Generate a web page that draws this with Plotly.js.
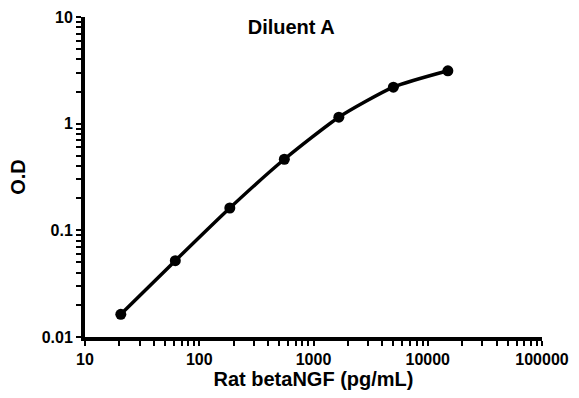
<!DOCTYPE html>
<html>
<head>
<meta charset="utf-8">
<script src="https://cdn.plot.ly/plotly-3.0.1.min.js"></script>
<style>html,body{margin:0;padding:0;background:#fff;}#chart{width:579px;height:398px;}</style>
</head>
<body>
<div id="chart"></div>
<script>
const concentration = [20.58, 61.73, 185.2, 555.6, 1666.7, 5000, 15000];
const od = [0.0163, 0.052, 0.162, 0.464, 1.15, 2.2, 3.13];
const xTickVals = [10, 100, 1000, 10000, 100000];
const xTickText = ["10", "100", "1000", "10000", "100000"];
const yTickVals = [0.01, 0.1, 1, 10];
const yTickText = ["0.01", "0.1", "1", "10"];

// major + minor (2..9 per decade) tick positions; minor ones get empty labels
function withMinor(majors, labels) {
  const vals = [], text = [];
  for (let i = 0; i < majors.length; i++) {
    vals.push(majors[i]); text.push(labels[i]);
    if (i < majors.length - 1) {
      for (let k = 2; k <= 9; k++) { vals.push(majors[i] * k); text.push(""); }
    }
  }
  return {vals, text};
}
const xT = withMinor(xTickVals, xTickText);
const yT = withMinor(yTickVals, yTickText);

const font = "Liberation Sans, Arial, sans-serif";

Plotly.newPlot("chart", [{
  x: concentration,
  y: od,
  type: "scatter",
  mode: "lines+markers",
  line: {color: "#000", width: 3.5, shape: "spline", smoothing: 0.6},
  marker: {color: "#000", size: 11},
  showlegend: false
}], {
  width: 579, height: 398,
  margin: {l: 85, r: 37, t: 17, b: 61},
  paper_bgcolor: "#fff", plot_bgcolor: "#fff",
  title: {text: "<b>Diluent A</b>", font: {family: font, size: 20, color: "#000"},
          x: 0.503, xref: "container", y: 0.932, yref: "container", yanchor: "middle"},
  xaxis: {
    type: "log", range: [1, 5],
    tickmode: "array", tickvals: xT.vals, ticktext: xT.text,
    showgrid: false, zeroline: false,
    showline: true, linecolor: "#000", linewidth: 4,
    ticks: "outside", ticklen: 5, tickwidth: 2, tickcolor: "#000",
    tickfont: {family: font, size: 16, color: "#000", weight: "bold"},
    title: {text: "<b>Rat betaNGF (pg/mL)</b>", font: {family: font, size: 20, color: "#000"}, standoff: 2}
  },
  yaxis: {
    type: "log", range: [-2, 1],
    tickmode: "array", tickvals: yT.vals, ticktext: yT.text,
    showgrid: false, zeroline: false,
    showline: true, linecolor: "#000", linewidth: 4,
    ticks: "outside", ticklen: 5, tickwidth: 2, tickcolor: "#000",
    tickfont: {family: font, size: 16, color: "#000", weight: "bold"},
    title: {text: "<b>O.D</b>", font: {family: font, size: 20, color: "#000"}, standoff: 12}
  }
}, {displayModeBar: false, staticPlot: true});
</script>
</body>
</html>
